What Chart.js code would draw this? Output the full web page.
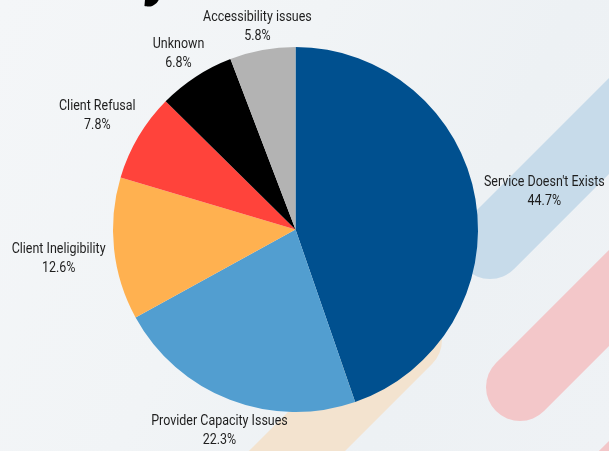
<!DOCTYPE html>
<html>
<head>
<meta charset="utf-8">
<script src="https://cdn.jsdelivr.net/npm/chart.js@4.4.1/dist/chart.umd.min.js"></script>
<style>
  html, body { margin: 0; padding: 0; }
  body {
    width: 609px; height: 451px; overflow: hidden; position: relative;
    background: linear-gradient(115deg, #f4f6f8 0%, #f1f4f6 40%, #edf1f4 70%, #eff2f5 100%);
  }
  .stripe { position: absolute; height: 68px; border-radius: 34px; transform-origin: 34px 34px; }
  .heading { position: absolute; left: 146px; top: -65px; font: bold italic 62px Roboto, sans-serif; color: #000; }
  #wrap { position: absolute; left: 0; top: 0; width: 609px; height: 451px; }
</style>
</head>
<body>
<div class="stripe" style="left:456px; top:211px; width:400px; background:#c7dbea; transform:rotate(-45deg);"></div>
<div class="stripe" style="left:486px; top:353px; width:400px; background:#f3c7c9; transform:rotate(-45deg);"></div>
<div class="stripe" style="left:556px; top:474px; width:400px; background:#f3c7c9; transform:rotate(-45deg);"></div>
<div class="stripe" style="left:374px; top:306px; width:400px; background:#f3e3cf; transform:rotate(135deg);"></div>
<div class="heading">y</div>
<div id="wrap"><canvas id="chart" width="609" height="451"></canvas></div>
<script>
const categories = [
  "Service Doesn't Exists",
  "Provider Capacity Issues",
  "Client Ineligibility",
  "Client Refusal",
  "Unknown",
  "Accessibility issues"
];
const shares = [44.7, 22.3, 12.6, 7.8, 6.8, 5.8];
const sliceColors = ['#00508f', '#529ed0', '#ffb150', '#ff433b', '#000000', '#b3b3b3'];

// outside labels, name on first line and percent under it
const outerLabels = {
  id: 'outerLabels',
  afterDatasetsDraw(chart) {
    const ctx = chart.ctx;
    const arcs = chart.getDatasetMeta(0).data;
    const squeeze = 0.86;
    const lineH = 19;
    ctx.save();
    ctx.font = '14.5px Roboto';
    ctx.fillStyle = '#1e1e1e';
    ctx.textAlign = 'center';
    ctx.textBaseline = 'middle';
    arcs.forEach((arc, i) => {
      const p = arc.getProps(['x', 'y', 'startAngle', 'endAngle', 'outerRadius'], true);
      const mid = (p.startAngle + p.endAngle) / 2;
      const dx = Math.cos(mid), dy = Math.sin(mid);
      const r = p.outerRadius + 6.5;
      const lines = [categories[i], shares[i].toFixed(1) + '%'];
      const w = Math.max(...lines.map(t => ctx.measureText(t).width)) * squeeze + 4;
      const hw = w / 2, hh = lineH + 2;
      const t = Math.min(Math.abs(dx) > 1e-6 ? hw / Math.abs(dx) : Infinity,
                         Math.abs(dy) > 1e-6 ? hh / Math.abs(dy) : Infinity);
      const cx = p.x + dx * (r + t);
      const cy = p.y + dy * (r + t) + 4;
      lines.forEach((txt, k) => {
        ctx.save();
        ctx.translate(cx, cy + (k - 0.5) * lineH);
        ctx.scale(squeeze, 1);
        ctx.fillText(txt, 0, 0);
        ctx.restore();
      });
    });
    ctx.restore();
  }
};

new Chart(document.getElementById('chart'), {
  type: 'pie',
  data: {
    labels: categories,
    datasets: [{
      data: shares,
      backgroundColor: sliceColors,
      borderWidth: 0
    }]
  },
  options: {
    responsive: false,
    animation: false,
    layout: { padding: { left: 113, right: 131, top: 47, bottom: 39 } },
    plugins: {
      legend: { display: false },
      tooltip: { enabled: false }
    }
  },
  plugins: [outerLabels]
});
</script>
</body>
</html>
